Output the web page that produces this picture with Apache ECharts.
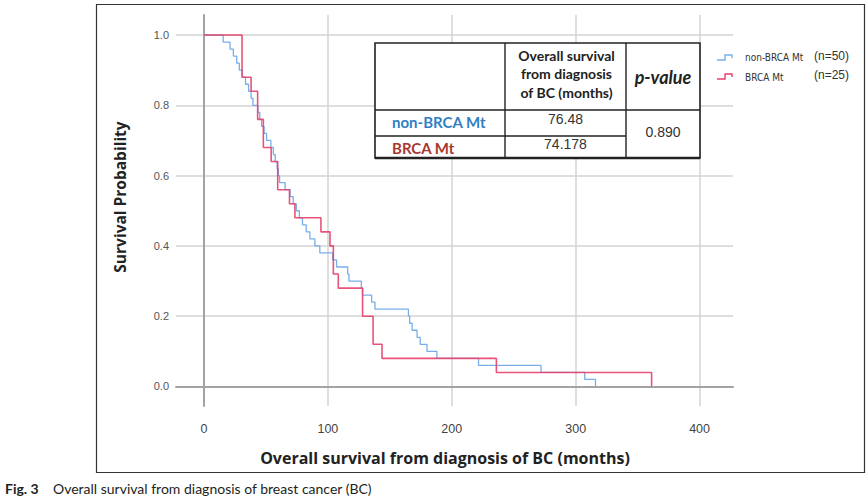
<!DOCTYPE html>
<html>
<head>
<meta charset="utf-8">
<script src="https://cdn.jsdelivr.net/npm/echarts@6/dist/echarts.min.js"></script>
<style>
html,body{margin:0;padding:0;background:#fff;}
#chart{width:868px;height:501px;}
</style>
</head>
<body>
<div id="chart"></div>
<script>
// ---- Data ----
const nonBrcaTimes = [0, 15.5, 21, 23.7, 26.4, 28.5, 31, 33.5, 36, 38, 39.5, 43.5, 45, 46.5, 48.5, 50.5, 54, 56, 57.5, 59, 60, 61, 65.5, 69.5, 72, 74.5, 77, 79.5, 82.5, 85.5, 89.5, 93.5, 103.8, 107, 116, 117, 127, 128, 135.3, 138, 165, 166, 168, 172, 174.5, 180, 188, 221.6, 272, 307.3, 316];
const nonBrcaSurv  = [1.00, 0.98, 0.96, 0.94, 0.92, 0.90, 0.88, 0.86, 0.84, 0.82, 0.80, 0.78, 0.76, 0.74, 0.72, 0.70, 0.68, 0.66, 0.64, 0.62, 0.60, 0.58, 0.56, 0.54, 0.52, 0.50, 0.48, 0.46, 0.44, 0.42, 0.40, 0.38, 0.36, 0.34, 0.32, 0.30, 0.28, 0.26, 0.24, 0.22, 0.20, 0.18, 0.16, 0.14, 0.12, 0.10, 0.08, 0.06, 0.04, 0.02, 0.00];
const brcaTimes = [0, 30.7, 38, 43.3, 47.9, 54.2, 59.5, 69, 73.4, 94.4, 101.7, 104.4, 108.4, 128, 136.5, 143.7, 236, 361.3];
const brcaSurv  = [1.00, 0.88, 0.84, 0.76, 0.68, 0.64, 0.56, 0.52, 0.48, 0.44, 0.40, 0.32, 0.28, 0.20, 0.12, 0.08, 0.04, 0.00];

const xTicks = [0, 100, 200, 300, 400];
const yTicks = [0, 0.2, 0.4, 0.6, 0.8, 1.0];

const seriesNames = ['non-BRCA Mt', 'BRCA Mt'];
const legendNames = ['non-BRCA Mt', 'BRCA Mt'];
const legendCounts = ['(n=50)', '(n=25)'];

const xTitle = 'Overall survival from diagnosis of BC (months)';
const yTitle = 'Survival Probability';
const captionLead = 'Fig. 3';
const captionText = 'Overall survival from diagnosis of breast cancer (BC)';

const tableHeader = ['Overall survival', 'from diagnosis', 'of BC (months)'];
const tablePLabel = 'p-value';
const tableGroups = ['non-BRCA Mt', 'BRCA Mt'];
const tableMedians = ['76.48', '74.178'];
const tablePValue = '0.890';

// ---- Styles ----
const BLUE = '#78aeea';
const RED = '#e6416a';

const chart = echarts.init(document.getElementById('chart'), null, {renderer: 'svg'});

const T = {x: 375, y: 43, w: 325, h: 115, c1: 505, c2: 626, r1: 110, r2: 136};

const graphics = [
  // figure frame
  {type: 'rect', shape: {x: 96.5, y: 4.5, width: 768, height: 468}, style: {fill: 'none', stroke: '#333', lineWidth: 1.2}, z: 1},
  // table
  {type: 'rect', shape: {x: T.x, y: T.y, width: T.w, height: T.h}, style: {fill: '#fff', stroke: '#222', lineWidth: 1.6}, z: 10},
  {type: 'line', shape: {x1: T.c1, y1: T.y, x2: T.c1, y2: T.y + T.h}, style: {stroke: '#222', lineWidth: 1.4}, z: 11},
  {type: 'line', shape: {x1: T.c2, y1: T.y, x2: T.c2, y2: T.y + T.h}, style: {stroke: '#222', lineWidth: 1.4}, z: 11},
  {type: 'line', shape: {x1: T.x, y1: T.r1, x2: T.x + T.w, y2: T.r1}, style: {stroke: '#222', lineWidth: 1.4}, z: 11},
  {type: 'line', shape: {x1: T.x, y1: T.r2, x2: T.c2, y2: T.r2}, style: {stroke: '#222', lineWidth: 1.4}, z: 11},
  {type: 'line', shape: {x1: T.x, y1: T.y + T.h, x2: T.x + T.w, y2: T.y + T.h}, style: {stroke: '#222', lineWidth: 2.6}, z: 11},
];
tableHeader.forEach((s, i) => {
  graphics.push({type: 'text', z: 12, style: {text: s, x: (T.c1 + T.c2) / 2 + 1, y: 55 + i * 18.8, align: 'center', verticalAlign: 'middle', fontFamily: 'Lato', fontWeight: 'bold', fontSize: 14, fill: '#222'}});
});
graphics.push({type: 'text', z: 12, style: {text: tablePLabel, x: (T.c2 + T.x + T.w) / 2, y: 76.5, align: 'center', verticalAlign: 'middle', fontFamily: 'Lato', fontWeight: 'bold', fontStyle: 'italic', fontSize: 18, fill: '#222'}});
const groupColors = ['#2f7fc4', '#a8382f'];
tableGroups.forEach((s, i) => {
  graphics.push({type: 'text', z: 12, style: {text: s, x: 392, y: i === 0 ? 122 : 148, align: 'left', verticalAlign: 'middle', fontFamily: 'Lato', fontWeight: 'bold', fontSize: 15, fill: groupColors[i]}});
  graphics.push({type: 'text', z: 12, style: {text: tableMedians[i], x: (T.c1 + T.c2) / 2, y: i === 0 ? 119 : 144, align: 'center', verticalAlign: 'middle', fontFamily: 'Liberation Sans', fontSize: 14, fill: '#333'}});
});
graphics.push({type: 'text', z: 12, style: {text: tablePValue, x: (T.c2 + T.x + T.w) / 2, y: 131.5, align: 'center', verticalAlign: 'middle', fontFamily: 'Liberation Sans', fontSize: 14, fill: '#333'}});

// legend
const legendY = [57, 76];
[BLUE, RED].forEach((c, i) => {
  const y = legendY[i];
  graphics.push({type: 'polyline', z: 5, shape: {points: [[717, y + 3], [725, y + 3], [725, y - 2], [732, y - 2], [732, y + 1]]}, style: {stroke: c, lineWidth: 1.4, fill: 'none'}});
  graphics.push({type: 'text', z: 5, style: {text: legendNames[i], x: 745, y: y + (i === 0 ? 0 : 1), align: 'left', verticalAlign: 'middle', fontFamily: 'DejaVu Sans Condensed', fontSize: 10, fill: '#333'}});
  graphics.push({type: 'text', z: 5, style: {text: legendCounts[i], x: 849, y: y - 1, align: 'right', verticalAlign: 'middle', fontFamily: 'Liberation Sans', fontSize: 12, fill: '#333'}});
});

// axis titles
graphics.push({type: 'text', z: 5, x: 120, y: 197, rotation: Math.PI / 2, style: {text: yTitle, x: 0, y: 0, align: 'center', verticalAlign: 'middle', fontFamily: 'Open Sans', fontWeight: 'bold', fontSize: 15.5, fill: '#222'}});
graphics.push({type: 'text', z: 5, style: {text: xTitle, x: 445, y: 458, align: 'center', verticalAlign: 'middle', fontFamily: 'Open Sans', fontWeight: 'bold', fontSize: 16, fill: '#222'}});

// caption
graphics.push({type: 'text', z: 5, style: {text: captionLead, x: 5, y: 488, align: 'left', verticalAlign: 'middle', fontFamily: 'Lato', fontWeight: 'bold', fontSize: 14, fill: '#231f20'}});
graphics.push({type: 'text', z: 5, style: {text: captionText, x: 53, y: 488, align: 'left', verticalAlign: 'middle', fontFamily: 'Lato', fontSize: 14, fill: '#231f20'}});

const option = {
  animation: false,
  backgroundColor: '#fff',
  grid: {left: 176, top: 15, width: 557, height: 391, containLabel: false},
  xAxis: {
    type: 'value', min: -22.6, max: 427,
    axisLine: {show: true, lineStyle: {color: '#a3a3a3', width: 2}},
    axisTick: {show: false, customValues: xTicks},
    axisLabel: {customValues: xTicks, color: '#444', fontSize: 12.5, fontFamily: 'Liberation Sans', margin: 16},
    splitLine: {show: true, lineStyle: {color: '#d3d3d3', width: 1.5}}
  },
  yAxis: {
    type: 'value', min: -0.0555, max: 1.057,
    axisLine: {show: true, lineStyle: {color: '#a3a3a3', width: 2}},
    axisTick: {show: false, customValues: yTicks},
    axisLabel: {customValues: yTicks, color: '#555', fontSize: 11, fontFamily: 'Liberation Sans', margin: 7, formatter: v => v.toFixed(1)},
    splitLine: {show: true, lineStyle: {color: '#d3d3d3', width: 1.5}}
  },
  series: [
    {name: seriesNames[0], type: 'line', step: 'end', showSymbol: false, z: 3,
     data: nonBrcaTimes.map((t, i) => [t, nonBrcaSurv[i]]),
     lineStyle: {color: BLUE, width: 1.3}},
    {name: seriesNames[1], type: 'line', step: 'end', showSymbol: false, z: 4,
     data: brcaTimes.map((t, i) => [t, brcaSurv[i]]),
     lineStyle: {color: RED, width: 1.6, opacity: 0.9}}
  ],
  graphic: graphics
};
chart.setOption(option);
</script>
</body>
</html>
